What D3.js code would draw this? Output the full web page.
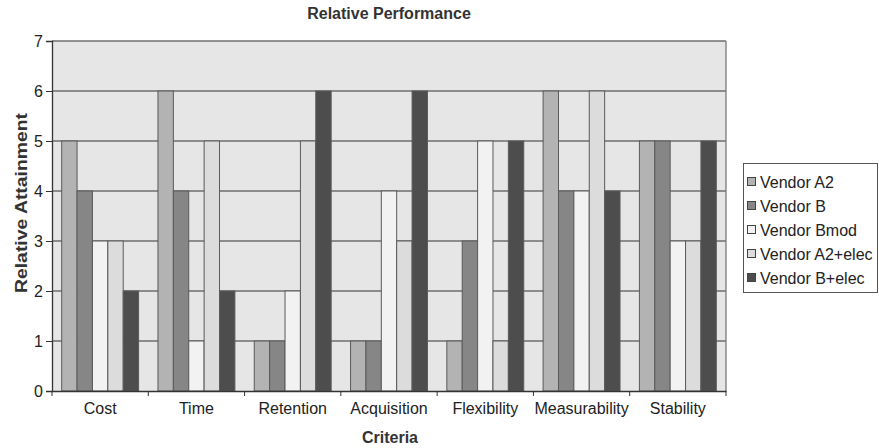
<!DOCTYPE html>
<html><head><meta charset="utf-8">
<script src="https://cdn.jsdelivr.net/npm/d3@7"></script>
<style>body{margin:0;background:#fff;}svg{display:block;font-family:"Liberation Sans",Arial,sans-serif;}</style>
</head><body><svg id="c" width="879" height="448"></svg>
<script>
const categories = ["Cost","Time","Retention","Acquisition","Flexibility","Measurability","Stability"];
const seriesNames = ["Vendor A2","Vendor B","Vendor Bmod","Vendor A2+elec","Vendor B+elec"];
const vendorA2     = [5,6,1,1,1,6,5];
const vendorB      = [4,4,1,1,3,4,5];
const vendorBmod   = [3,1,2,4,5,4,3];
const vendorA2elec = [3,5,5,3,1,6,3];
const vendorBelec  = [2,2,6,6,5,4,5];
const yTicks = [0,1,2,3,4,5,6,7];
const seriesValues = [vendorA2,vendorB,vendorBmod,vendorA2elec,vendorBelec];
const colors = ["#b3b3b3","#868686","#f2f2f2","#dcdcdc","#4d4d4d"];

const svg = d3.select("#c");
const m = {l:52, r:153, t:41, b:57};
const W = 879, H = 448;
const x0 = d3.scaleBand().domain(categories).range([m.l, W-m.r]).paddingInner(0).paddingOuter(0);
const x1 = d3.scaleBand().domain(d3.range(seriesNames.length)).range([0, x0.bandwidth()]).paddingOuter(0.63).paddingInner(0);
const y = d3.scaleLinear().domain([0,7]).range([H-m.b, m.t]);

svg.append("rect").attr("x",m.l).attr("y",m.t).attr("width",W-m.r-m.l).attr("height",H-m.b-m.t)
  .attr("fill","#e6e6e6");
svg.append("g").selectAll("line").data(yTicks.slice(1)).join("line")
  .attr("x1",m.l).attr("x2",W-m.r).attr("y1",d=>y(d)).attr("y2",d=>y(d))
  .attr("stroke","#6e6e6e").attr("stroke-width",1.3);

const g = svg.append("g");
categories.forEach((c,i)=>{
  seriesValues.forEach((vals,s)=>{
    g.append("rect").attr("x",x0(c)+x1(s)).attr("y",y(vals[i]))
      .attr("width",x1.bandwidth()).attr("height",y(0)-y(vals[i]))
      .attr("fill",colors[s]).attr("stroke","#5a5a5a").attr("stroke-width",1);
  });
});
svg.append("line").attr("x1",W-m.r).attr("x2",W-m.r).attr("y1",m.t).attr("y2",H-m.b).attr("stroke","#7a7a7a").attr("stroke-width",1.3);

const ya = svg.append("g").attr("transform",`translate(${m.l},0)`)
  .call(d3.axisLeft(y).tickValues(yTicks).tickFormat(d3.format("d")).tickSize(6).tickPadding(3));
ya.select(".domain").attr("stroke","#333").attr("stroke-width",1.3);
ya.selectAll(".tick line").attr("stroke","#333");
ya.selectAll("text").attr("font-size",16).attr("fill","#222").attr("font-family","Liberation Sans, Arial, sans-serif");

const xa = svg.append("g").attr("transform",`translate(0,${H-m.b})`)
  .call(d3.axisBottom(x0).tickSize(0).tickPadding(12));
xa.select(".domain").attr("stroke","#333").attr("stroke-width",1.3);
xa.selectAll("text").attr("font-size",16).attr("fill","#222").attr("font-family","Liberation Sans, Arial, sans-serif");
svg.append("g").selectAll("line").data(d3.range(categories.length+1)).join("line")
  .attr("x1",d=>m.l+d*x0.step()).attr("x2",d=>m.l+d*x0.step())
  .attr("y1",H-m.b).attr("y2",H-m.b+5).attr("stroke","#333");

svg.append("text").attr("x",389).attr("y",19).attr("text-anchor","middle")
  .attr("font-size",16).attr("font-weight","bold").attr("fill","#333").text("Relative Performance");
svg.append("text").attr("x",390).attr("y",443).attr("text-anchor","middle")
  .attr("font-size",16).attr("font-weight","bold").attr("fill","#333").text("Criteria");
svg.append("text").attr("transform","translate(27,203) rotate(-90)").attr("text-anchor","middle")
  .attr("font-size",17).attr("font-weight","bold").attr("fill","#333")
  .attr("textLength",180).attr("lengthAdjust","spacingAndGlyphs").text("Relative Attainment");

const lg = svg.append("g");
lg.append("rect").attr("x",743.5).attr("y",163.5).attr("width",134).attr("height",129)
  .attr("fill","#fff").attr("stroke","#555").attr("stroke-width",1);
seriesNames.forEach((n,i)=>{
  const yy = 182 + i*24;
  lg.append("rect").attr("x",747.5).attr("y",yy-4.5).attr("width",8).attr("height",8)
    .attr("fill",colors[i]).attr("stroke","#444");
  lg.append("text").attr("x",760).attr("y",yy+6).attr("font-size",16).attr("fill","#222").text(n);
});
</script></body></html>
